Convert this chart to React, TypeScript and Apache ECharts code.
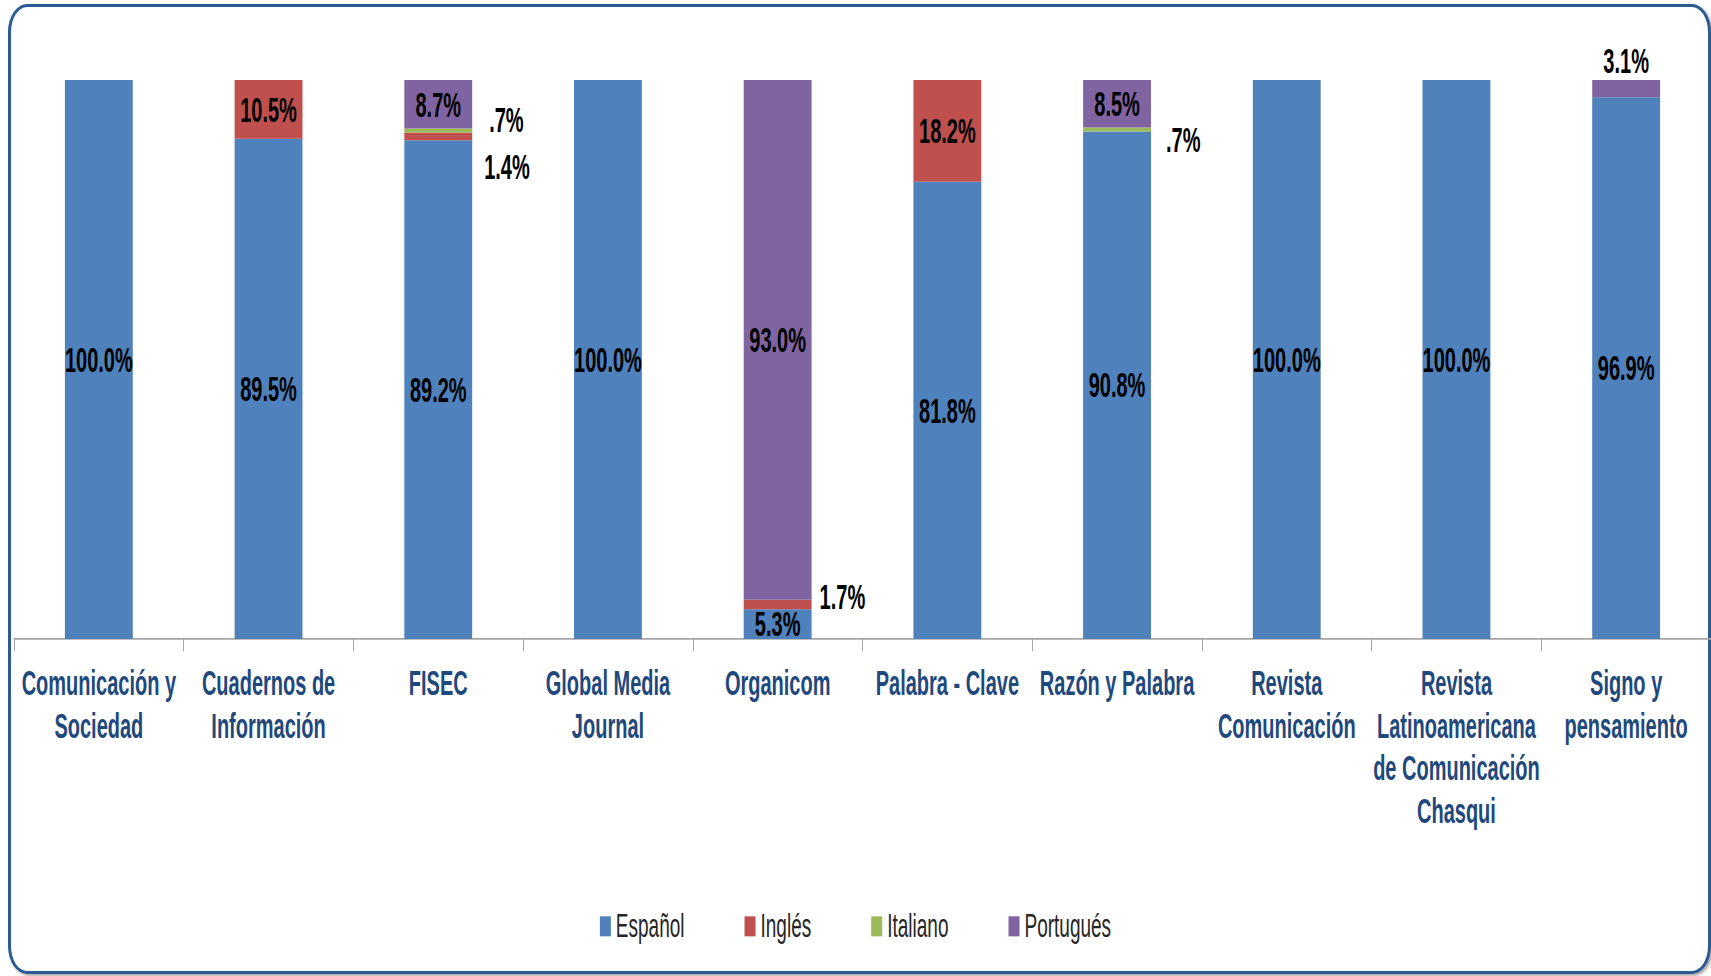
import React, { useEffect, useRef } from "react";
import * as echarts from "echarts";

// ---- Data ----
const categories = [
  "Comunicación y\nSociedad",
  "Cuadernos de\nInformación",
  "FISEC",
  "Global Media\nJournal",
  "Organicom",
  "Palabra - Clave",
  "Razón y Palabra",
  "Revista\nComunicación",
  "Revista\nLatinoamericana\nde Comunicación\nChasqui",
  "Signo y\npensamiento",
];
const seriesNames = ["Español", "Inglés", "Italiano", "Portugués"];
const espanol = [100.0, 89.5, 89.2, 100.0, 5.3, 81.8, 90.8, 100.0, 100.0, 96.9];
const ingles = [null, 10.5, 1.4, null, 1.7, 18.2, null, null, null, null];
const italiano = [null, null, 0.7, null, null, null, 0.7, null, null, null];
const portugues = [null, null, 8.7, null, 93.0, null, 8.5, null, null, 3.1];

const seriesValues = [espanol, ingles, italiano, portugues];
const colors = ["#4F81BD", "#C0504D", "#9BBB59", "#8064A2"];

// vertical stretch of the whole picture (the reference is stretched vertically)
const W = 1711;
const H = 976;
const INNER_H = 560;
const K = H / INNER_H;

const FONT = "'Liberation Sans', Arial, sans-serif";

// label placement for small segments (styles, not data)
const labelOverrides: Record<string, any> = {
  "Inglés-2": { position: "right", distance: 5, offset: [7, 17.5] },
  "Italiano-2": { position: "right", distance: 5, offset: [12, -6] },
  "Inglés-4": { position: "right", distance: 5, offset: [3, -4.4] },
  "Italiano-6": { position: "right", distance: 5, offset: [10, 6] },
  "Portugués-9": { position: "top", distance: 1 },
};

const fmt = (v: number) => {
  const s = v.toFixed(1);
  return (s.startsWith("0") ? s.slice(1) : s) + "%";
};

export default function App() {
  const ref = useRef<HTMLDivElement>(null);

  useEffect(() => {
    if (!ref.current) return;
    const chart = echarts.init(ref.current, undefined, { renderer: "svg" });

    const series = seriesNames.map((name, si) => ({
      name,
      type: "bar",
      stack: "total",
      barWidth: "40%",
      itemStyle: { color: colors[si] },
      label: {
        show: true,
        position: "inside",
        color: "#000",
        fontFamily: FONT,
        fontWeight: "bold",
        fontSize: 20,
        formatter: (p: any) => fmt(p.value),
      },
      data: seriesValues[si].map((v, i) => {
        if (v == null) return "-";
        const ov = labelOverrides[`${name}-${i}`];
        return ov ? { value: v, label: ov } : { value: v };
      }),
    }));

    chart.setOption({
      animation: false,
      backgroundColor: "transparent",
      grid: { left: 14, width: 1698, top: 45.9, height: 320.7 },
      legend: {
        data: seriesNames,
        left: "center",
        top: 517,
        icon: "rect",
        itemWidth: 11,
        itemHeight: 11.5,
        itemGap: 60,
        textStyle: { fontFamily: FONT, fontSize: 19, color: "#262626" },
      },
      xAxis: {
        type: "category",
        data: categories,
        axisLine: { lineStyle: { color: "#A6A6A6", width: 1 } },
        axisTick: { show: true, length: 7, lineStyle: { color: "#A6A6A6", width: 1 } },
        axisLabel: {
          interval: 0,
          margin: 13,
          color: "#1F497D",
          fontFamily: FONT,
          fontWeight: "bold",
          fontSize: 20,
          lineHeight: 24.4,
        },
      },
      yAxis: { type: "value", min: 0, max: 100, show: false },
      series,
    });

    return () => chart.dispose();
  }, []);

  return (
    <div
      style={{
        position: "absolute",
        left: 0,
        top: 0,
        width: W,
        height: H,
        overflow: "hidden",
        background: "#fff",
      }}
    >
      <div
        style={{
          position: "absolute",
          left: 8,
          top: 4,
          width: 1703,
          height: 970,
          boxSizing: "border-box",
          border: "3px solid #2c5b94",
          borderRadius: "19px / 28px",
          boxShadow: "2px 2px 3px rgba(0,0,0,0.35)",
          background: "#fff",
        }}
      />
      <div
        ref={ref}
        style={{
          position: "absolute",
          left: 0,
          top: 0,
          width: W,
          height: INNER_H,
          transform: `scaleY(${K})`,
          transformOrigin: "top left",
        }}
      />
    </div>
  );
}
